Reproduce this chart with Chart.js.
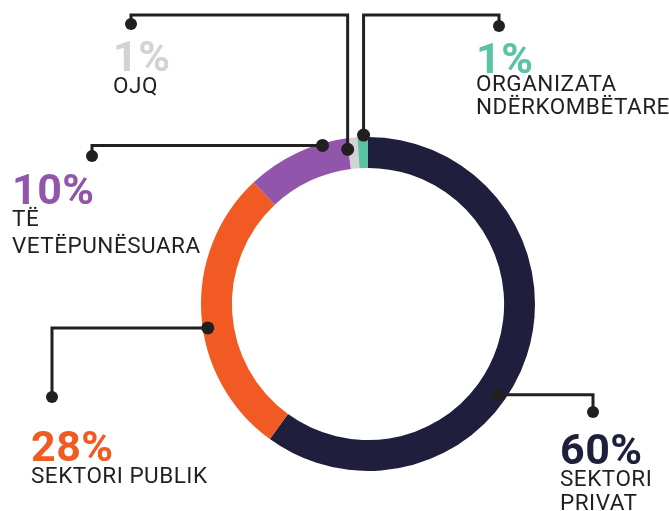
<!DOCTYPE html>
<html>
<head>
<meta charset="utf-8">
<script src="https://cdn.jsdelivr.net/npm/chart.js@4.4.1/dist/chart.umd.min.js"></script>
<style>
  html, body { margin: 0; padding: 0; background: #ffffff; }
  #wrap { position: relative; width: 669px; height: 511px; overflow: hidden; }
  #c { position: absolute; left: 0; top: 0; }
  .lbl { position: absolute; font-family: Roboto, "Noto Sans", sans-serif; color: #231f20; white-space: nowrap; }
  .pct { font-weight: 700; font-size: 43px; line-height: 42px; letter-spacing: 0.5px; }
  .txt { font-weight: 400; font-size: 22.5px; line-height: 24px; letter-spacing: 0.5px; }
</style>
</head>
<body>
<div id="wrap">
  <canvas id="c" width="669" height="511"></canvas>
</div>
<script>
// ---- data ----
const categories = ["SEKTORI PRIVAT", "SEKTORI PUBLIK", "TË VETËPUNËSUARA", "OJQ", "ORGANIZATA NDËRKOMBËTARE"];
const values = [60, 28, 10, 1, 1];
const pctLabels = ["60%", "28%", "10%", "1%", "1%"];
const labelLines = [["SEKTORI", "PRIVAT"], ["SEKTORI PUBLIK"], ["TË", "VETËPUNËSUARA"], ["OJQ"], ["ORGANIZATA", "NDËRKOMBËTARE"]];

// ---- styles / layout (not data) ----
const colors = ["#1f1f3d", "#f15a22", "#9155ab", "#d1d3d4", "#5bc3a4"];
// label placement: x, top of percentage box, top of text block, text line height
const labelPos = [
  { x: 560, pTop: 428, tTop: 466, lh: 24 },
  { x: 31,  pTop: 425, tTop: 463, lh: 24 },
  { x: 12,  pTop: 168, tTop: 205, lh: 27 },
  { x: 113, pTop: 35,  tTop: 73,  lh: 24 },
  { x: 476, pTop: 37,  tTop: 72,  lh: 23 }
];
// leader lines: anchor on ring (deg clockwise from top, radius px), then segments
const leaders = [
  { angle: 125, r: 158, path: [["h", 593], ["v", 412]] },
  { angle: 261.5, r: 162, path: [["h", 52], ["v", 397]] },
  { angle: 344, r: 165, path: [["h", 92], ["v", 156]] },
  { angle: 352.5, r: 156, path: [["v", 15], ["h", 131], ["v", 24]] },
  { angle: 358.5, r: 169, path: [["v", 15], ["h", 499], ["v", 26]] }
];

const leaderPlugin = {
  id: 'leaders',
  afterDatasetsDraw(chart) {
    const ctx = chart.ctx;
    const meta = chart.getDatasetMeta(0);
    const arc0 = meta.data[0];
    const cx = arc0.x, cy = arc0.y;
    ctx.save();
    ctx.strokeStyle = "#231f20";
    ctx.fillStyle = "#231f20";
    ctx.lineWidth = 3;
    ctx.lineJoin = "miter";
    leaders.forEach((L) => {
      const a = L.angle * Math.PI / 180;
      let x = cx + L.r * Math.sin(a);
      let y = cy - L.r * Math.cos(a);
      const sx = x, sy = y;
      ctx.beginPath();
      ctx.moveTo(x, y);
      L.path.forEach(([k, v]) => {
        if (k === "h") x = v; else y = v;
        ctx.lineTo(x, y);
      });
      ctx.stroke();
      ctx.beginPath(); ctx.arc(sx, sy, 6.5, 0, Math.PI * 2); ctx.fill();
      ctx.beginPath(); ctx.arc(x, y, 6, 0, Math.PI * 2); ctx.fill();
    });
    ctx.restore();
  }
};

new Chart(document.getElementById('c'), {
  type: 'doughnut',
  data: {
    labels: categories,
    datasets: [{
      data: values,
      backgroundColor: colors,
      borderWidth: 0,
      hoverOffset: 0
    }]
  },
  options: {
    responsive: false,
    animation: false,
    cutout: '81.5%',
    rotation: 0,
    layout: { padding: { left: 201, right: 134, top: 137, bottom: 40 } },
    plugins: { legend: { display: false }, tooltip: { enabled: false } },
    events: []
  },
  plugins: [leaderPlugin]
});

// text labels as real HTML text
const wrap = document.getElementById('wrap');
categories.forEach((cat, i) => {
  const p = labelPos[i];
  const pd = document.createElement('div');
  pd.className = 'lbl pct';
  pd.style.left = p.x + 'px';
  pd.style.top = p.pTop + 'px';
  pd.style.color = colors[i];
  pd.textContent = pctLabels[i];
  wrap.appendChild(pd);
  const td = document.createElement('div');
  td.className = 'lbl txt';
  td.style.left = p.x + 'px';
  td.style.top = p.tTop + 'px';
  td.style.lineHeight = p.lh + 'px';
  td.innerHTML = labelLines[i].join('<br>');
  wrap.appendChild(td);
});
</script>
</body>
</html>
